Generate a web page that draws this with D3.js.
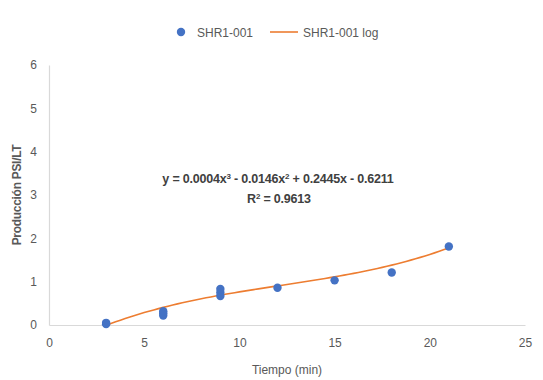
<!DOCTYPE html>
<html><head><meta charset="utf-8">
<script src="https://cdn.jsdelivr.net/npm/d3@7"></script>
<style>body{margin:0;background:#fff}svg{display:block}text{font-family:"Liberation Sans",Arial,sans-serif}</style>
</head><body><svg id="c" width="543" height="380"></svg>
<script>
const seriesName = "SHR1-001";
const trendName = "SHR1-001 log";
const timeValues = [3, 3, 6, 6, 6, 9, 9, 9, 12, 15, 18, 21];
const productionValues = [0.02, 0.05, 0.22, 0.27, 0.32, 0.67, 0.75, 0.83, 0.86, 1.03, 1.21, 1.81];
const trendCoefficients = [0.0004, -0.0146, 0.2445, -0.6211]; // x^3, x^2, x, const
const xTicks = [0, 5, 10, 15, 20, 25];
const yTicks = [0, 1, 2, 3, 4, 5, 6];
const xTitle = "Tiempo (min)";
const yTitle = "Producción PSI/LT";

const svg = d3.select("#c");
const m = {l: 49, r: 18, t: 65, b: 55};
const W = 543, H = 380;
const x = d3.scaleLinear().domain([0, 25]).range([m.l, W - m.r]);
const y = d3.scaleLinear().domain([0, 6]).range([H - m.b, m.t]);
const grey = "#595959";

// axes
const xa = svg.append("g").attr("transform", `translate(0,${y(0)})`)
  .call(d3.axisBottom(x).tickValues(xTicks).tickFormat(d3.format("d")).tickSize(0).tickPadding(13));
const ya = svg.append("g").attr("transform", `translate(${x(0)},0)`)
  .call(d3.axisLeft(y).tickValues(yTicks).tickFormat(d3.format("d")).tickSize(0).tickPadding(12));
[xa, ya].forEach(a => {
  a.select(".domain").attr("stroke", "#d9d9d9").attr("stroke-width", 1.2);
  a.selectAll("text").attr("fill", grey).attr("font-size", 12);
});

// trendline
const poly = t => trendCoefficients[0]*t*t*t + trendCoefficients[1]*t*t + trendCoefficients[2]*t + trendCoefficients[3];
const tx = d3.range(3, 21.001, 0.25);
svg.append("path").datum(tx)
  .attr("fill", "none").attr("stroke", "#ED7D31").attr("stroke-width", 1.6)
  .attr("d", d3.line().x(d => x(d)).y(d => y(poly(d))));

// points
svg.append("g").selectAll("circle").data(timeValues).join("circle")
  .attr("cx", d => x(d)).attr("cy", (d, i) => y(productionValues[i]))
  .attr("r", 4.2).attr("fill", "#4472C4");

// equation
const eq = svg.append("text").attr("x", 278).attr("y", 183).attr("text-anchor", "middle")
  .attr("font-size", 12.5).attr("font-weight", "bold").attr("fill", "#404040").attr("letter-spacing", -0.2);
eq.append("tspan").text("y = 0.0004x");
eq.append("tspan").text("3").attr("font-size", 8).attr("dy", -4.5);
eq.append("tspan").text(" - 0.0146x").attr("dy", 4.5);
eq.append("tspan").text("2").attr("font-size", 8).attr("dy", -4.5);
eq.append("tspan").text(" + 0.2445x - 0.6211").attr("dy", 4.5);
const r2 = svg.append("text").attr("x", 279).attr("y", 203).attr("text-anchor", "middle")
  .attr("font-size", 12.5).attr("font-weight", "bold").attr("fill", "#404040").attr("letter-spacing", -0.2);
r2.append("tspan").text("R");
r2.append("tspan").text("2").attr("font-size", 8).attr("dy", -4.5);
r2.append("tspan").text(" = 0.9613").attr("dy", 4.5);

// titles
svg.append("text").attr("x", x(12.5)).attr("y", 374).attr("text-anchor", "middle")
  .attr("font-size", 12).attr("fill", grey).text(xTitle);
svg.append("text").attr("transform", `translate(21,${(y(0)+y(6))/2}) rotate(-90)`)
  .attr("text-anchor", "middle").attr("font-size", 12).attr("font-weight", "bold")
  .attr("letter-spacing", -0.3).attr("fill", grey).text(yTitle);

// legend
const lg = svg.append("g").attr("transform", "translate(0,32)");
lg.append("circle").attr("cx", 181).attr("cy", 0).attr("r", 4.2).attr("fill", "#4472C4");
lg.append("text").attr("x", 197).attr("y", 4.5).attr("font-size", 12).attr("fill", grey).text(seriesName);
lg.append("line").attr("x1", 270).attr("x2", 298).attr("y1", 0).attr("y2", 0).attr("stroke", "#ED7D31").attr("stroke-width", 1.6);
lg.append("text").attr("x", 303).attr("y", 4.5).attr("font-size", 12).attr("fill", grey).text(trendName);
</script></body></html>
